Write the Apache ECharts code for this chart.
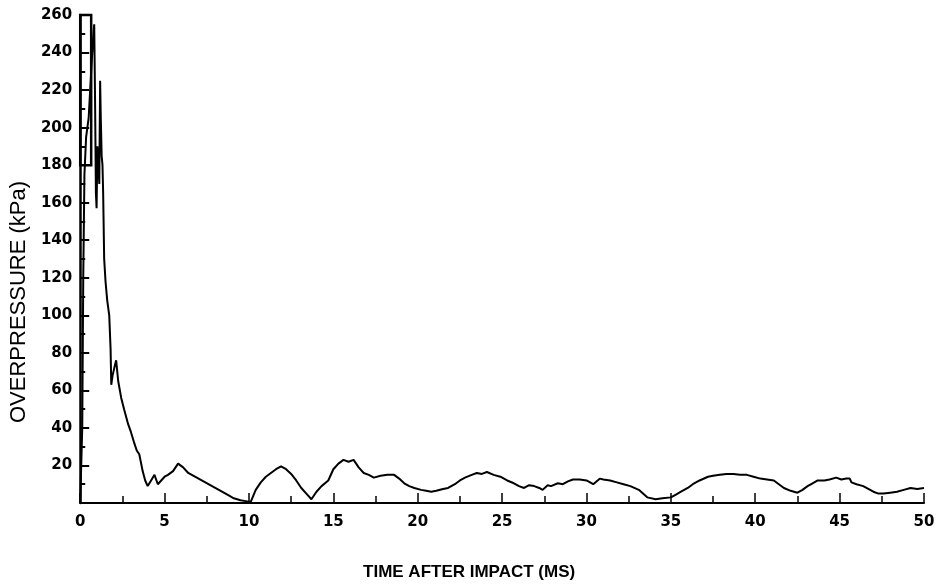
<!DOCTYPE html>
<html>
<head>
<meta charset="utf-8">
<script src="https://cdn.jsdelivr.net/npm/echarts@6/dist/echarts.min.js"></script>
<style>html,body{margin:0;padding:0;background:#fff;}#c{width:938px;height:586px;}</style>
</head>
<body>
<div id="c"></div>
<script>
const timeMs = [
  0, 0.08, 0.12, 0.18, 0.25, 0.35, 0.5, 0.65, 0.78, 0.83,
  0.88, 0.93, 0.97, 1.02, 1.08, 1.13, 1.18, 1.22, 1.27, 1.32,
  1.36, 1.42, 1.5, 1.6, 1.72, 1.8, 1.84, 1.92, 2.02, 2.13,
  2.25, 2.43, 2.6, 2.84, 3.0, 3.2, 3.35, 3.5, 3.7, 3.85,
  4.0, 4.2, 4.4, 4.6, 4.8, 5.0, 5.2, 5.5, 5.8, 6.1,
  6.4, 6.8, 7.2, 7.6, 8.0, 8.4, 8.8, 9.1, 9.5, 9.8,
  10.1, 10.4, 10.7, 11.0, 11.3, 11.6, 11.9, 12.2, 12.5, 12.8,
  13.1, 13.4, 13.7, 14.0, 14.3, 14.7, 15.0, 15.3, 15.6, 15.9,
  16.2, 16.5, 16.8, 17.1, 17.4, 17.8, 18.2, 18.6, 18.9, 19.2,
  19.5, 19.8, 20.2, 20.5, 20.8, 21.1, 21.5, 21.8, 22.2, 22.5,
  22.8, 23.2, 23.5, 23.8, 24.1, 24.5, 24.9, 25.3, 25.7, 26.0,
  26.3, 26.6, 26.9, 27.2, 27.4, 27.7, 27.9, 28.3, 28.6, 28.9,
  29.2, 29.6, 30.0, 30.4, 30.8, 31.0, 31.4, 31.8, 32.2, 32.6,
  33.1, 33.6, 34.1, 34.5, 35.0, 35.3, 35.6, 36.0, 36.3, 36.7,
  37.2, 37.5, 37.9, 38.3, 38.7, 39.1, 39.5, 39.9, 40.3, 40.7,
  41.1, 41.4, 41.7, 42.1, 42.5, 42.8, 43.1, 43.4, 43.7, 44.1,
  44.4, 44.8, 45.1, 45.4, 45.6, 45.7, 46.0, 46.4, 46.7, 47.0,
  47.3, 47.6, 48.0, 48.4, 48.8, 49.2, 49.6, 50.0
];
const overpressureKPa = [
  0, 0, 40, 120, 175, 195, 205, 230, 250, 255,
  215, 165, 157, 190, 180, 170, 225, 205, 185, 180,
  165, 130, 118, 108, 100, 82, 63, 68, 72, 76,
  65, 56, 50, 42, 38, 32, 28, 26, 17, 12,
  9, 12, 15, 10, 12, 14, 15, 17, 21, 19,
  16, 14, 12, 10, 8, 6, 4, 2.5, 1.5, 1,
  0.5, 7, 11, 14, 16, 18, 19.5, 18, 15.5, 12,
  8, 5, 2, 6, 9, 12, 18, 21, 23, 22,
  23, 19, 16, 15, 13.5, 14.5, 15, 15, 13, 10.5,
  9, 8, 7, 6.5, 6, 6.5, 7.5, 8, 10, 12,
  13.5, 15, 16, 15.5, 16.5, 15, 14, 12, 10.5, 9,
  8, 9.5, 9, 8, 7, 9.5, 9, 10.5, 10, 11.5,
  12.5, 12.5, 12, 10, 13, 12.5, 12, 11, 10, 9,
  7, 3, 2, 2.5, 3, 4.5, 6, 8, 10, 12,
  14, 14.5, 15, 15.5, 15.5, 15, 15, 14, 13, 12.5,
  12, 10, 8, 6.5, 5.5, 7, 9, 10.5, 12, 12,
  12.5, 13.5, 12.5, 13, 13, 11, 10, 9, 7.5, 6,
  5, 5, 5.5, 6, 7, 8, 7.5, 8
];
const xTicks = [0, 5, 10, 15, 20, 25, 30, 35, 40, 45, 50];
const yTicks = [20, 40, 60, 80, 100, 120, 140, 160, 180, 200, 220, 240, 260];
const xTitle = 'TIME AFTER IMPACT (MS)';
const yTitle = 'OVERPRESSURE (kPa)';

const chart = echarts.init(document.getElementById('c'), null, {renderer: 'canvas'});
const seriesData = timeMs.map((t, i) => [t, overpressureKPa[i]]);
const font = '"Liberation Sans", Arial, sans-serif';
const tickFont = '"DejaVu Sans", sans-serif';

chart.setOption({
  animation: false,
  backgroundColor: '#fff',
  grid: {left: 80, right: 14, top: 15, bottom: 83},
  xAxis: {
    type: 'value', min: 0, max: 50, interval: 5,
    name: xTitle, nameLocation: 'middle', nameGap: 61,
    nameTextStyle: {fontFamily: font, fontSize: 17, fontWeight: 'bold', color: '#000', padding: [0, 66, 0, 0]},
    axisLine: {lineStyle: {color: '#000', width: 2}},
    axisTick: {inside: true, length: 10, lineStyle: {color: '#000', width: 1.5}},
    minorTick: {show: true, splitNumber: 2, length: 7, lineStyle: {color: '#000', width: 1.5}},
    axisLabel: {fontFamily: tickFont, fontSize: 15, fontWeight: 'bold', color: '#000', margin: 12,
      formatter: v => xTicks.includes(v) ? String(v) : ''},
    splitLine: {show: false}
  },
  yAxis: {
    type: 'value', min: 0, max: 260, interval: 20,
    name: yTitle, nameLocation: 'middle', nameGap: 36, nameRotate: 90,
    nameTextStyle: {fontFamily: font, fontSize: 22, color: '#000', padding: [0, 0, 0, -86]},
    axisLine: {lineStyle: {color: '#000', width: 2.5}},
    axisTick: {inside: true, length: 9, lineStyle: {color: '#000', width: 2}},
    minorTick: {show: true, splitNumber: 2, length: 5, lineStyle: {color: '#000', width: 2}},
    axisLabel: {fontFamily: tickFont, fontSize: 15, fontWeight: 'bold', color: '#000', margin: 8,
      formatter: v => yTicks.includes(v) ? String(v) : ''},
    splitLine: {show: false}
  },
  series: [{
    type: 'line',
    data: seriesData,
    showSymbol: false,
    lineStyle: {color: '#000', width: 2},
    markArea: {
      silent: true,
      itemStyle: {color: 'rgba(0,0,0,0)', borderColor: '#000', borderWidth: 2.5},
      data: [[{coord: [0, 180]}, {coord: [0.65, 260]}]]
    }
  }]
});
</script>
</body>
</html>
